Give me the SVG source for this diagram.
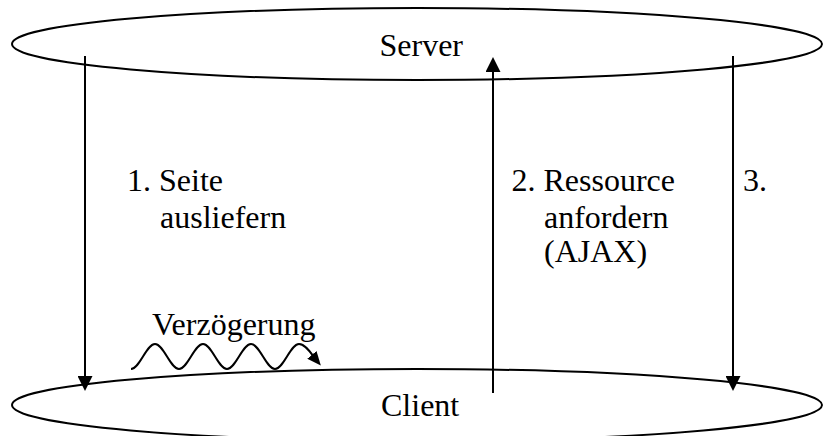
<svg xmlns="http://www.w3.org/2000/svg" width="823" height="436" viewBox="0 0 823 436">
  <style>
    .shape { fill: none; stroke: #000; stroke-width: 2; }
    .label { font-family: 'Liberation Serif', 'Times New Roman', Times, 'DejaVu Serif', serif; font-size: 32px; fill: #000; }
  </style>
  <defs>
    <marker id="head" viewBox="0 0 15 15" refX="10" refY="7.5" markerWidth="15" markerHeight="15" markerUnits="userSpaceOnUse" orient="auto">
      <path d="M0,0 L15,7.5 L0,15 Z" fill="#000"/>
    </marker>
    <marker id="head-small" viewBox="0 0 14 12" refX="8" refY="6" markerWidth="14" markerHeight="12" markerUnits="userSpaceOnUse" orient="auto">
      <path d="M0,0 L14,6 L0,12 Z" fill="#000"/>
    </marker>
  </defs>
  <rect width="823" height="436" fill="#fff"/>

  <g id="server">
    <ellipse class="shape" cx="417" cy="44" rx="405" ry="36"/>
    <text class="label" font-family="'Liberation Serif', 'DejaVu Serif', serif" x="379.5" y="56">Server</text>
  </g>

  <g id="client">
    <ellipse class="shape" cx="417" cy="405" rx="405" ry="36"/>
    <text class="label" font-family="'Liberation Serif', 'DejaVu Serif', serif" x="381" y="416">Client</text>
  </g>

  <g id="connectors">
    <!-- 1. page delivery: server to client -->
    <line class="shape" x1="85" y1="56" x2="85" y2="386" marker-end="url(#head)"/>
    <!-- 2. resource request: client to server -->
    <line class="shape" x1="493" y1="393" x2="493" y2="62" marker-end="url(#head)"/>
    <!-- 3. server to client -->
    <line class="shape" x1="733" y1="56" x2="733" y2="386" marker-end="url(#head)"/>
    <!-- delay wave -->
    <path class="shape" d="M131,369 C139.7,369 146.3,344 155,344 S170.3,369 179,369 S194.3,344 203,344 S218.3,369 227,369 S242.3,344 251,344 S266.3,369 275,369 S290.3,344 299,344 C306,344 312,355 317,361" marker-end="url(#head-small)"/>
  </g>

  <g id="labels" font-family="'Liberation Serif', 'DejaVu Serif', serif">
    <text class="label" x="127" y="191">1. Seite</text>
    <text class="label" x="160" y="228">ausliefern</text>
    <text class="label" x="511.5" y="191">2. Ressource</text>
    <text class="label" x="544" y="228">anfordern</text>
    <text class="label" x="544" y="262">(AJAX)</text>
    <text class="label" x="743" y="191">3.</text>
    <text class="label" x="152" y="335">Verzögerung</text>
  </g>
</svg>
